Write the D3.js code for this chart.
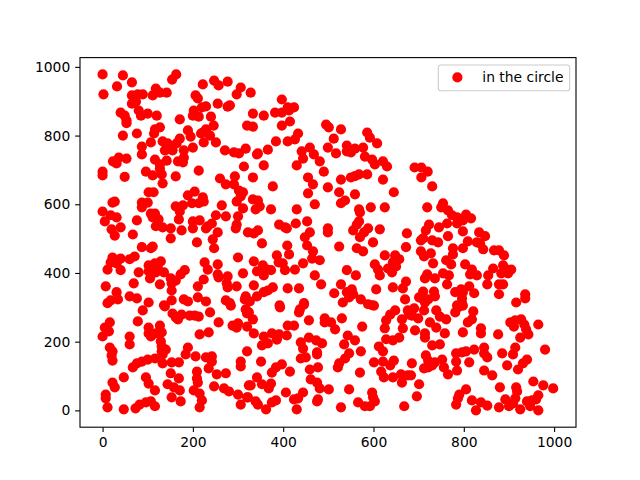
<!DOCTYPE html>
<html><head><meta charset="utf-8">
<script src="https://cdn.jsdelivr.net/npm/d3@7/dist/d3.min.js"></script>
<style>html,body{margin:0;padding:0;background:#fff}svg{display:block}</style>
</head><body><div id="chart"></div>
<script>
const legendLabel = "in the circle";
const xTicks = [0,200,400,600,800,1000];
const yTicks = [0,200,400,600,800,1000];
const pointsTopLeft = [[0,978],[45,975],[65,955],[32,943],[2,920],[163,978],[154,963],[222,949],[247,960],[257,946],[277,957],[306,940],[297,920],[328,925],[118,937],[65,917],[78,920],[89,920],[111,917],[127,925],[142,925],[206,917],[211,908],[74,899],[65,893],[255,893],[229,885],[220,882],[282,888],[277,884],[40,867],[49,858],[80,873],[85,858],[100,864],[120,858],[202,873],[200,858],[213,855],[240,855],[53,844],[53,836],[171,847],[246,829],[320,829],[127,824],[116,818],[114,806],[189,815],[229,818],[222,809],[45,800],[76,806],[195,797],[218,806],[238,800],[171,791],[133,783],[144,777],[107,780],[164,777],[224,780],[251,780],[87,768],[200,765],[142,760],[155,757],[138,757],[180,757],[271,757],[291,751],[302,748],[317,762],[87,745],[36,736],[53,733],[23,725],[31,719],[116,730],[142,727],[180,736],[167,725],[178,722],[127,716],[313,710],[0,695],[0,684],[96,695],[213,698],[127,704],[131,687],[111,684],[49,680],[162,681],[260,675],[293,681]];
const pointsTopMiddle = [[397,905],[410,882],[424,882],[413,873],[382,867],[397,867],[333,864],[357,858],[415,841],[333,826],[397,829],[495,832],[501,824],[528,818],[433,806],[586,809],[592,794],[512,791],[426,789],[410,783],[384,783],[608,777],[541,771],[366,759],[344,748],[342,745],[459,765],[441,754],[499,765],[577,765],[559,762],[541,754],[550,751],[517,748],[468,745],[444,733],[581,739],[597,730],[621,725],[481,725],[430,713],[357,713],[603,716],[630,710],[490,695],[455,678],[333,678],[528,672],[550,678],[568,687],[559,682],[586,687],[621,672],[691,707],[706,707],[720,695],[706,678]];
const pointsMiddleLeft = [[133,661],[273,658],[291,658],[302,640],[311,635],[306,623],[297,608],[102,635],[113,635],[27,608],[22,605],[87,605],[100,605],[87,591],[189,626],[204,637],[222,620],[224,608],[198,603],[213,603],[264,597],[178,597],[162,594],[171,579],[311,588],[0,579],[18,568],[31,562],[5,550],[76,553],[107,573],[116,573],[111,562],[124,556],[169,556],[251,568],[273,565],[300,565],[215,553],[200,550],[242,544],[233,536],[297,541],[118,536],[133,533],[151,530],[200,530],[40,533],[20,527],[229,530],[295,530],[175,524],[255,518],[27,509],[67,512],[322,518],[151,501],[244,498],[209,489],[111,477],[107,472],[87,475],[247,472],[300,445],[22,445],[40,442],[71,448],[60,440],[18,431],[31,428],[226,431],[255,425],[233,410],[11,410],[40,408],[80,402],[102,422],[116,428],[129,434],[122,419],[102,405],[118,402],[136,402],[182,408],[173,396],[151,384],[162,378],[255,396],[257,387],[277,390],[311,399],[105,384],[224,381],[211,361],[127,367],[69,370],[7,361],[153,370],[153,349],[275,370],[277,358],[297,361],[31,344],[60,332],[76,326],[34,323],[18,320],[11,312],[102,314],[136,306],[153,320],[180,323],[189,317],[211,329],[229,317],[273,320],[282,312],[315,323]];
const pointsMiddleCentre = [[466,658],[377,652],[499,649],[524,635],[455,632],[559,629],[645,635],[333,614],[344,611],[470,600],[537,611],[528,603],[348,594],[339,585],[373,585],[430,585],[568,585],[594,591],[625,591],[570,576],[453,550],[391,541],[404,533],[408,530],[428,544],[568,550],[563,541],[499,530],[499,518],[555,524],[588,530],[614,527],[335,515],[344,524],[459,518],[579,518],[570,504],[448,504],[674,515],[353,486],[599,489],[409,480],[453,480],[524,477],[672,475],[563,472],[577,463],[466,463],[413,454],[386,451],[625,451],[648,451],[464,442],[481,437],[335,434],[444,428],[390,431],[399,428],[603,425],[657,440],[643,431],[650,419],[355,422],[404,408],[426,410],[342,405],[373,408],[364,410],[355,402],[357,393],[541,408],[632,413],[641,402],[610,410],[614,393],[561,393],[470,393],[484,367],[528,367],[335,364],[410,355],[435,355],[377,358],[366,349],[357,344],[643,358],[665,355],[672,375],[606,352],[552,352],[541,344],[513,341],[555,338],[317,332],[342,332],[326,317],[546,329],[572,323],[532,314],[446,312],[392,306],[588,309],[597,306],[670,323]];
const pointsMiddleRight = [[730,652],[754,603],[719,591],[750,591],[765,582],[774,568],[805,570],[785,562],[816,559],[798,553],[785,544],[763,544],[723,541],[745,533],[716,524],[798,521],[834,518],[847,507],[765,507],[710,501],[730,495],[743,489],[705,495],[809,492],[829,489],[836,486],[843,469],[776,472],[798,472],[867,466],[878,466],[705,463],[727,457],[712,448],[776,454],[889,451],[761,437],[772,425],[732,428],[803,425],[887,422],[865,413],[818,410],[905,410],[892,413],[883,399],[898,399],[814,396],[829,393],[854,393],[754,399],[767,393],[719,396],[714,384],[736,384],[763,367],[852,367],[878,367],[887,367],[812,361],[794,352],[781,344],[823,341],[798,344],[710,346],[734,346],[736,332],[878,338],[936,338],[936,326],[916,314],[701,329],[710,323],[721,323],[796,326],[796,312],[714,314],[785,306]];
const pointsBottomLeft = [[138,303],[89,291],[284,305],[317,294],[320,282],[155,282],[162,271],[167,265],[175,279],[193,276],[204,276],[213,273],[238,285],[257,256],[78,259],[16,256],[5,241],[14,230],[0,215],[102,241],[127,247],[102,224],[107,215],[118,224],[131,227],[60,215],[60,192],[215,221],[235,227],[288,247],[300,253],[297,241],[320,244],[129,201],[131,186],[140,177],[131,172],[133,163],[16,183],[22,172],[20,160],[22,145],[189,183],[184,163],[206,157],[320,172],[229,154],[242,157],[242,142],[116,151],[100,148],[87,142],[76,137],[67,125],[133,137],[153,140],[169,140],[306,142],[306,128],[235,122],[209,113],[151,108],[169,93],[209,93],[211,81],[253,105],[273,108],[47,96],[96,96],[102,78],[22,81],[27,67],[144,76],[158,67],[171,58],[116,58],[247,70],[269,64],[280,55],[300,46],[324,73],[320,38],[202,58],[215,49],[7,46],[7,35],[153,38],[173,26],[220,29],[215,9],[306,17],[11,9],[47,3],[73,6],[82,17],[96,23],[107,26],[116,12]];
const pointsBottomMiddle = [[393,300],[446,308],[437,294],[435,285],[324,285],[333,265],[601,305],[457,262],[410,247],[424,247],[492,268],[492,256],[506,256],[515,236],[530,268],[575,244],[648,291],[637,279],[628,262],[625,239],[663,265],[665,239],[676,291],[679,279],[335,224],[357,215],[375,224],[391,221],[408,218],[386,206],[366,195],[353,189],[457,212],[439,198],[473,204],[486,195],[444,180],[475,169],[475,163],[439,151],[450,154],[543,218],[559,204],[535,192],[546,166],[537,151],[572,172],[628,207],[643,204],[657,212],[612,186],[621,172],[351,142],[601,140],[621,142],[645,145],[637,131],[524,137],[521,125],[397,134],[384,125],[375,110],[415,113],[459,119],[477,125],[570,110],[617,113],[623,96],[643,96],[661,105],[676,102],[663,81],[461,90],[475,81],[481,64],[501,61],[342,96],[353,76],[373,78],[368,64],[328,73],[546,61],[597,52],[599,38],[406,52],[444,52],[424,32],[433,35],[322,38],[339,26],[344,17],[362,3],[375,23],[384,29],[477,32],[475,26],[430,3],[528,9],[566,23],[581,12],[592,12],[603,26],[668,12]];
const pointsBottomRight = [[798,305],[787,300],[781,285],[690,297],[679,288],[685,276],[699,268],[712,291],[739,291],[747,273],[761,265],[821,288],[818,265],[809,256],[725,256],[739,241],[692,233],[714,224],[714,212],[758,224],[798,227],[838,239],[838,224],[876,221],[903,256],[914,262],[911,244],[927,265],[934,250],[938,236],[943,221],[925,212],[965,250],[730,189],[747,192],[914,183],[909,163],[980,177],[845,183],[823,177],[805,172],[796,169],[783,166],[845,166],[852,154],[885,166],[716,160],[752,148],[783,142],[812,140],[685,137],[721,145],[736,140],[730,131],[712,122],[756,125],[721,125],[785,116],[765,105],[896,131],[940,148],[931,137],[920,119],[845,116],[863,102],[683,102],[701,76],[696,41],[954,84],[976,73],[998,64],[880,67],[916,67],[918,55],[805,61],[790,46],[787,35],[783,17],[818,29],[838,23],[852,14],[827,0],[878,9],[892,32],[914,35],[909,20],[900,12],[925,3],[965,44],[960,32],[940,26],[951,29],[947,12],[965,0]];
const allPoints = [pointsTopLeft,pointsTopMiddle,pointsMiddleLeft,pointsMiddleCentre,pointsMiddleRight,pointsBottomLeft,pointsBottomMiddle,pointsBottomRight].flat();

const W=640,H=480,L=80,R=576,T=57.6,B=427.2;
const x=d3.scaleLinear().domain([-50,1048.5]).range([L,R]);
const y=d3.scaleLinear().domain([-49,1027]).range([B,T]);
const svg=d3.select("#chart").append("svg").attr("width",W).attr("height",H).style("font-family","'DejaVu Sans'");
svg.append("rect").attr("width",W).attr("height",H).attr("fill","#fff");
svg.append("g").selectAll("circle").data(allPoints).join("circle")
  .attr("cx",d=>x(d[0])).attr("cy",d=>y(d[1])).attr("r",5.1).attr("fill","#ff0000");
const gx=svg.append("g").attr("transform",`translate(0,${B})`)
  .call(d3.axisBottom(x).tickValues(xTicks).tickFormat(d3.format("d")).tickSize(4.86).tickPadding(4.9).tickSizeOuter(0));
const gy=svg.append("g").attr("transform",`translate(${L},0)`)
  .call(d3.axisLeft(y).tickValues(yTicks).tickFormat(d3.format("d")).tickSize(4.86).tickPadding(4.9).tickSizeOuter(0));
[gx,gy].forEach(g=>{g.select(".domain").remove();g.selectAll("text").attr("font-size",13.89).attr("font-family","'DejaVu Sans'").attr("fill","#000");g.selectAll("line").attr("stroke","#000").attr("stroke-width",1.1);});
svg.append("rect").attr("x",L).attr("y",T).attr("width",R-L).attr("height",B-T).attr("fill","none").attr("stroke","#000").attr("stroke-width",1.1);
const lg=svg.append("g");
lg.append("rect").attr("x",438.3).attr("y",65).attr("width",131.4).attr("height",25.7).attr("rx",2.8).attr("fill","#fff").attr("fill-opacity",.8).attr("stroke","#ccc").attr("stroke-width",1.1);
lg.append("circle").attr("cx",457.4).attr("cy",77.4).attr("r",5.1).attr("fill","#ff0000");
lg.append("text").attr("x",482.3).attr("y",82.2).attr("font-size",13.89).attr("fill","#000").text(legendLabel);
</script></body></html>
